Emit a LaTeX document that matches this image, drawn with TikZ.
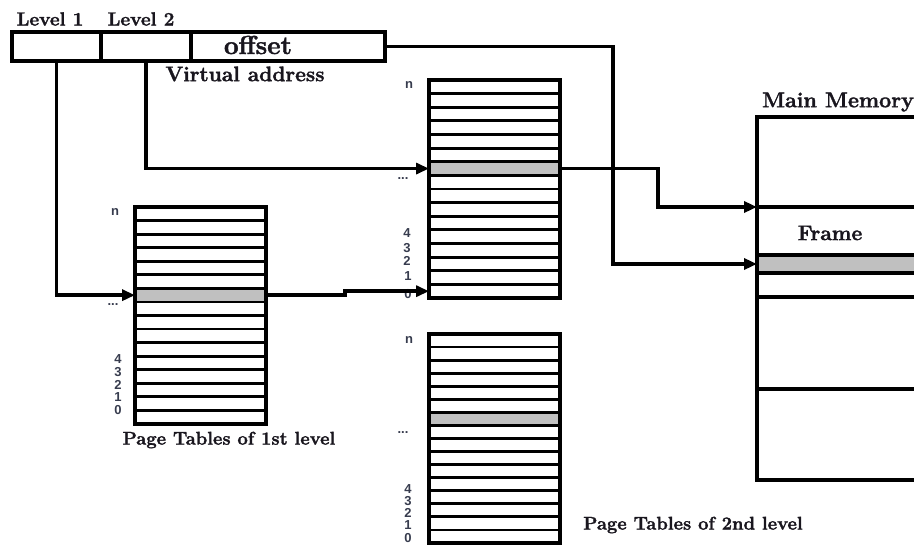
\documentclass[tikz,border=0pt]{standalone}
\usepackage{fontspec}
\newfontfamily\labfont{Liberation Sans}
\newfontfamily\headfont{Latin Modern Roman}[BoldFeatures={FakeBold=1.6}]
\usetikzlibrary{arrows.meta,calc}

\definecolor{selgray}{RGB}{192,192,192}
\definecolor{labgray}{RGB}{55,60,78}
\definecolor{inkdark}{RGB}{25,22,30}

\tikzset{
  frame/.style={draw=black, line width=3.2pt, inner sep=0pt, outer sep=0pt, rectangle},
  cell/.style={draw=black, line width=2.8pt, inner sep=0pt, outer sep=0pt, fill=white, rectangle},
  selcell/.style={cell, fill=selgray},
  conn/.style={draw=black, line width=3.5pt, -{Triangle[length=13pt,width=11pt]}},
  title/.style={font=\headfont\fontsize{21}{23}\selectfont\bfseries, text=inkdark, inner sep=0pt},
  idx/.style={font=\labfont\bfseries\fontsize{13}{14}\selectfont, text=labgray, inner sep=0pt},
}

% page table: name, left x, top y, right x, bottom y (16 entries, entry 7 selected)
\newcommand\pagetable[5]{%
  \pgfmathsetmacro\tw{#4-#2}%
  \pgfmathsetmacro\th{#5-#3}%
  \pgfmathsetmacro\rh{\th/16}%
  \pgfmathsetmacro\xc{(#2+#4)/2}%
  \foreach \k in {1,...,16}{%
    \pgfmathsetmacro\yc{#3+(\k-0.5)*\rh}%
    \ifnum\k=7 \def\cs{selcell}\else\def\cs{cell}\fi
    \node[\cs, minimum width=\tw pt, minimum height=\rh pt] (#1-\k) at (\xc,\yc) {};
  }%
  \node[frame, minimum width=\tw pt, minimum height=\th pt] (#1) at (\xc,{(#3+#5)/2}) {};
}

\begin{document}
\begin{tikzpicture}[x=1pt,y=-1pt]
\path[use as bounding box, clip] (0,0) rectangle (914,551);

% virtual address fields
\node[frame, minimum width=89pt, minimum height=29pt] (va1) at (56.5,46.5) {};
\node[frame, minimum width=90pt, minimum height=29pt] (va2) at (146,46.5) {};
\node[frame, minimum width=194pt, minimum height=29pt] (va3) at (288,46.5) {};
\node[title, font=\headfont\fontsize{26}{28}\selectfont\bfseries] (offsetlbl) at (258,45) {offset};
\node[title, font=\headfont\fontsize{19}{21}\selectfont\bfseries] (lv1) at (50,19) {Level 1};
\node[title, font=\headfont\fontsize{19}{21}\selectfont\bfseries] (lv2) at (141,19) {Level 2};
\node[title] (valbl) at (245,74) {Virtual address};

% page tables
\pagetable{t1}{135}{207}{266}{424}
\pagetable{t2}{429}{80}{560}{298}
\pagetable{t3}{429}{334}{560}{543}

\node[title, font=\headfont\fontsize{18.4}{20}\selectfont\bfseries] (t1lbl) at (229,440) {Page Tables of 1st level};
\node[title, font=\headfont\fontsize{18.4}{20}\selectfont\bfseries] (t2lbl) at (693,525) {Page Tables of 2nd level};

% entry indices
\node[idx] (t1n) at (115,212) {n};
\node[idx] (t1d) at (113,305) {...};
\node[idx] (t1i4) at (118,359) {4};
\node[idx] (t1i3) at (118,372) {3};
\node[idx] (t1i2) at (118,385) {2};
\node[idx] (t1i1) at (118,397) {1};
\node[idx] (t1i0) at (118,410) {0};

\node[idx] (t2n) at (409,85) {n};
\node[idx] (t2d) at (403,179) {...};
\node[idx] (t2i4) at (407,233) {4};
\node[idx] (t2i3) at (407,248) {3};
\node[idx] (t2i2) at (407,261) {2};
\node[idx] (t2i1) at (408,276) {1};
\node[idx] (t2i0) at (408,294) {0};

\node[idx] (t3n) at (409,340) {n};
\node[idx] (t3d) at (403,433) {...};
\node[idx] (t3i4) at (408,489) {4};
\node[idx] (t3i3) at (408,501) {3};
\node[idx] (t3i2) at (408,513) {2};
\node[idx] (t3i1) at (408,525) {1};
\node[idx] (t3i0) at (408,538) {0};

% main memory
\node[frame, minimum width=173pt, minimum height=90pt] (mm-top) at (843.5,162) {};
\node[frame, minimum width=173pt, minimum height=48pt] (mm-frame) at (843.5,231) {};
\node[frame, fill=selgray, minimum width=173pt, minimum height=18pt] (mm-sel) at (843.5,264) {};
\node[frame, minimum width=173pt, minimum height=24pt] (mm-low) at (843.5,285) {};
\node[frame, minimum width=173pt, minimum height=92pt] (mm-a) at (843.5,343) {};
\node[frame, minimum width=173pt, minimum height=91pt] (mm-b) at (843.5,434.5) {};
\node[title, font=\headfont\fontsize{21.5}{23}\selectfont\bfseries] (mmlbl) at (838,102) {Main Memory};
\node[title] (framelbl) at (830,233) {Frame};

% connectors
\coordinate (jog) at (345,0);
\coordinate (bendA) at (613,0);
\coordinate (bendB) at (658,0);
\draw[conn] (va1.south) |- (t1-7.west);
\draw[conn] (va2.south) |- (t2-7.west);
\draw[conn] (t1-7.east) -| (jog |- t2-16.west) -- (t2-16.west);
\draw[conn] (va3.east) -| (bendA |- mm-sel.west) -- (mm-sel.west);
\draw[conn] (t2-7.east) -| (bendB |- mm-frame.north west) -- (mm-frame.north west);
\end{tikzpicture}
\end{document}
